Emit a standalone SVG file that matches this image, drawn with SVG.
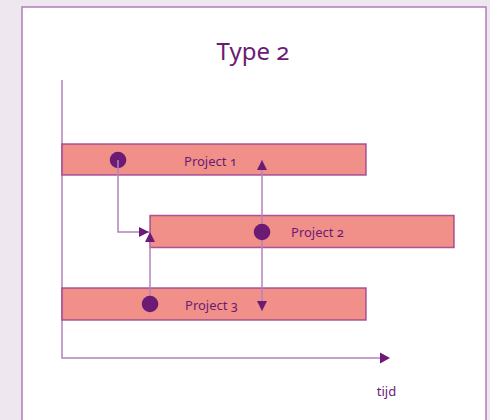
<svg xmlns="http://www.w3.org/2000/svg" width="490" height="420" viewBox="0 0 490 420">
  <style>
    .txt { font-family: "Noto Sans", "Open Sans", "Liberation Sans", sans-serif; fill: #6c1b74; font-variant-numeric: oldstyle-nums; }
    .bar { fill: #f19088; stroke: #9a3f8e; stroke-opacity: 0.85; stroke-width: 1.5; }
    .axis { fill: none; stroke: #b583bf; stroke-width: 1.5; }
    .link { fill: none; stroke: #b583bf; stroke-width: 1.5; }
    .dot { fill: #6c1b74; }
  </style>
  <defs>
    <marker id="head" viewBox="0 0 10 10" refX="10" refY="5" markerWidth="10" markerHeight="10" markerUnits="userSpaceOnUse" orient="auto">
      <path d="M0,0 L10,5 L0,10 Z" fill="#6c1b74"/>
    </marker>
  </defs>

  <!-- page background and white panel -->
  <rect x="0" y="0" width="490" height="420" fill="#efe7f0"/>
  <rect x="22" y="7" width="464" height="430" fill="#ffffff" stroke="#b07cb8" stroke-width="1.5"/>

  <text class="txt" x="253" y="60" font-size="24" text-anchor="middle">Type 2</text>

  <!-- axes -->
  <g id="axes">
    <path class="axis" d="M62,80 V358 H380"/>
    <path d="M380,352.5 L390,358 L380,363.5 Z" fill="#6c1b74"/>
    <text class="txt" x="386.5" y="395.5" font-size="13" text-anchor="middle">tijd</text>
  </g>

  <!-- project bars -->
  <g id="project1">
    <rect class="bar" x="62" y="144" width="304" height="31"/>
    <text class="txt" x="210.5" y="165.5" font-size="13" text-anchor="middle">Project 1</text>
    <circle class="dot" cx="118" cy="160" r="8.3"/>
  </g>
  <g id="project2">
    <rect class="bar" x="150" y="215.5" width="304" height="32"/>
    <text class="txt" x="317.5" y="237" font-size="13" text-anchor="middle">Project 2</text>
  </g>
  <g id="project3">
    <rect class="bar" x="62" y="288" width="304" height="32"/>
    <text class="txt" x="211.5" y="309.5" font-size="13" text-anchor="middle">Project 3</text>
  </g>

  <!-- dependency connectors -->
  <g id="connectors">
    <path class="link" d="M118,160 V232 H149" marker-end="url(#head)"/>
    <path class="link" d="M150,304 V232" marker-end="url(#head)"/>
    <path class="link" d="M262,232 V160" marker-end="url(#head)"/>
    <path class="link" d="M262,232 V311" marker-end="url(#head)"/>
  </g>

  <!-- dots drawn over the connector ends -->
  <g id="dots">
    <circle class="dot" cx="262" cy="232" r="8.3"/>
    <circle class="dot" cx="150" cy="304" r="8.3"/>
  </g>
</svg>
